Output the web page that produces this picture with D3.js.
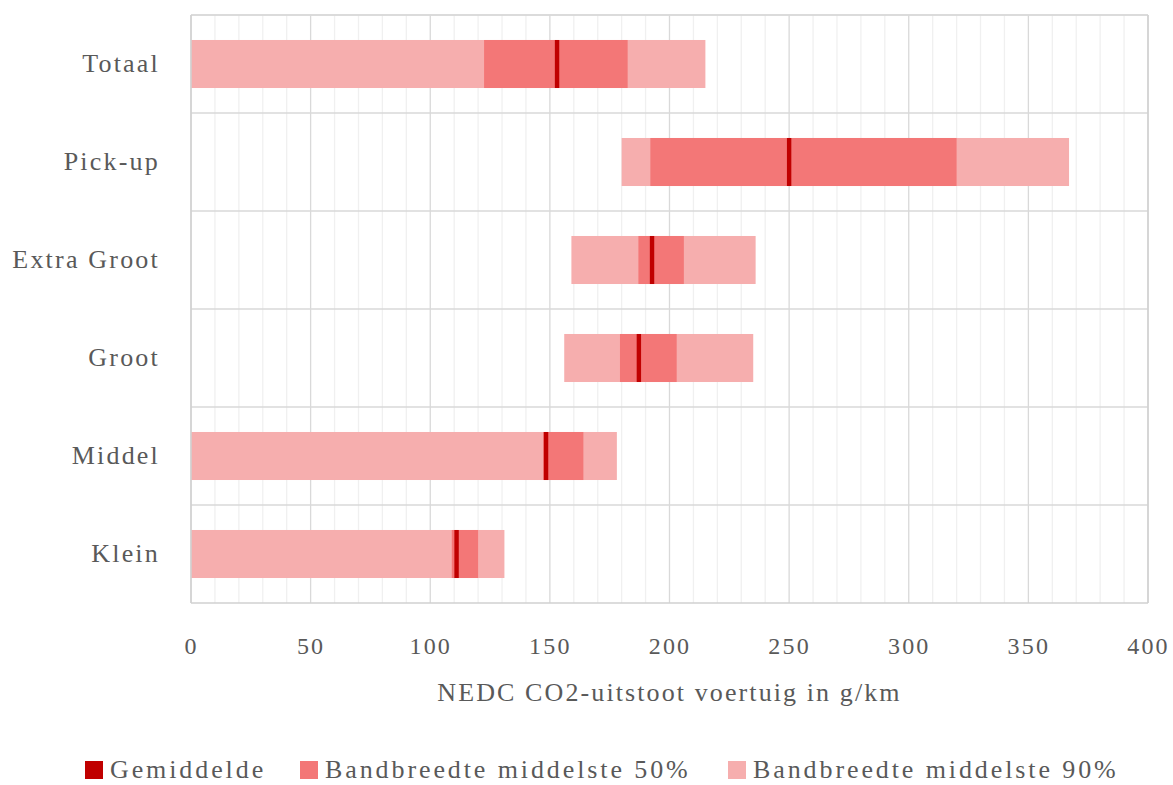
<!DOCTYPE html>
<html>
<head>
<meta charset="utf-8">
<script src="https://cdn.jsdelivr.net/npm/d3@7"></script>
<style>
  body { margin: 0; background: #fff; }
  text { font-family: "Liberation Serif", serif; fill: #595959; }
</style>
</head>
<body>
<svg id="chart"></svg>
<script>
var categories = ["Totaal", "Pick-up", "Extra Groot", "Groot", "Middel", "Klein"];
var p5  = [0, 180, 159, 156, 0, 0];
var p25 = [122.5, 192, 187, 179.3, 147.2, 109];
var gemiddelde = [153, 250, 192.7, 187.2, 148.4, 111];
var p75 = [182.5, 320, 206, 203, 164, 120];
var p95 = [215, 367, 236, 235, 178, 131];
var xTicks = [0, 50, 100, 150, 200, 250, 300, 350, 400];
var legendLabels = ["Gemiddelde", "Bandbreedte middelste 50%", "Bandbreedte middelste 90%"];

var width = 1173;
var height = 785;
var margin = { top: 15, right: 25, bottom: 182, left: 191 };
var w = width - margin.left - margin.right;
var h = height - margin.top - margin.bottom;

var cDark = "#C00000", cMid = "#F37777", cLight = "#F6AEAE";

var data = categories.map(function (c, i) {
  return { cat: c, p5: p5[i], p25: p25[i], mean: gemiddelde[i], p75: p75[i], p95: p95[i] };
});

var svg = d3.select("#chart").attr("width", width).attr("height", height);
var g = svg.append("g").attr("transform", "translate(" + margin.left + "," + margin.top + ")");

var x = d3.scaleLinear().domain([0, 400]).range([0, w]);
var y = d3.scaleBand().domain(categories).range([0, h]).paddingInner(0.51).paddingOuter(0.255);
var yb = d3.scaleBand().domain(categories).range([0, h]);

// minor gridlines every 10
g.selectAll("line.minor").data(d3.range(10, 400, 10).filter(function (v) { return v % 50 != 0; }))
  .enter().append("line").attr("class", "minor")
  .attr("x1", function (d) { return x(d); }).attr("x2", function (d) { return x(d); })
  .attr("y1", 0).attr("y2", h)
  .attr("stroke", "#F0F0F0").attr("stroke-width", 1.3);

// major gridlines
g.selectAll("line.major").data(xTicks)
  .enter().append("line").attr("class", "major")
  .attr("x1", function (d) { return x(d); }).attr("x2", function (d) { return x(d); })
  .attr("y1", 0).attr("y2", h)
  .attr("stroke", "#D9D9D9").attr("stroke-width", 1.3);

// horizontal lines between categories
g.selectAll("line.hband").data(categories)
  .enter().append("line").attr("class", "hband")
  .attr("x1", 0).attr("x2", w)
  .attr("y1", function (d) { return yb(d); }).attr("y2", function (d) { return yb(d); })
  .attr("stroke", "#D9D9D9").attr("stroke-width", 1.3);
g.append("line").attr("x1", 0).attr("x2", w).attr("y1", h).attr("y2", h)
  .attr("stroke", "#D0D0D0").attr("stroke-width", 1.5);

// 90% band
g.selectAll("rect.b90").data(data).enter().append("rect").attr("class", "b90")
  .attr("x", function (d) { return x(d.p5); })
  .attr("width", function (d) { return x(d.p95) - x(d.p5); })
  .attr("y", function (d) { return y(d.cat); })
  .attr("height", y.bandwidth())
  .attr("fill", cLight);

// 50% band
g.selectAll("rect.b50").data(data).enter().append("rect").attr("class", "b50")
  .attr("x", function (d) { return x(d.p25); })
  .attr("width", function (d) { return x(d.p75) - x(d.p25); })
  .attr("y", function (d) { return y(d.cat); })
  .attr("height", y.bandwidth())
  .attr("fill", cMid);

// mean marker
g.selectAll("rect.mean").data(data).enter().append("rect").attr("class", "mean")
  .attr("x", function (d) { return x(d.mean) - 2.2; })
  .attr("width", 4.4)
  .attr("y", function (d) { return y(d.cat); })
  .attr("height", y.bandwidth())
  .attr("fill", cDark);

// x axis labels
var xAxis = d3.axisBottom(x).tickValues(xTicks).tickSize(0).tickPadding(34);
var xg = g.append("g").attr("transform", "translate(0," + h + ")").call(xAxis);
xg.select(".domain").remove();
xg.selectAll("text").style("font-size", "24px").style("letter-spacing", "2.2px")
  .style("font-family", "Liberation Serif").attr("fill", "#595959");

// y axis labels
var yAxis = d3.axisLeft(yb).tickSize(0).tickPadding(31);
var yg = g.append("g").call(yAxis);
yg.select(".domain").remove();
yg.selectAll("text").style("font-size", "26px").style("letter-spacing", "2.2px")
  .style("font-family", "Liberation Serif").attr("fill", "#595959");

// plot border top / left / right
g.append("line").attr("x1", 0).attr("x2", w).attr("y1", 0).attr("y2", 0).attr("stroke", "#D9D9D9").attr("stroke-width", 1.3);
g.append("line").attr("x1", 0).attr("x2", 0).attr("y1", 0).attr("y2", h).attr("stroke", "#D0D0D0").attr("stroke-width", 1.5);
g.append("line").attr("x1", w).attr("x2", w).attr("y1", 0).attr("y2", h).attr("stroke", "#D0D0D0").attr("stroke-width", 1.5);

// axis title
svg.append("text").attr("x", margin.left + w / 2).attr("y", 701)
  .attr("text-anchor", "middle").style("font-size", "26px").style("letter-spacing", "2.1px")
  .text("NEDC CO2-uitstoot voertuig in g/km");

// legend
var legendX = [85, 300, 728];
var legendColors = [cDark, cMid, cLight];
var lg = svg.selectAll("g.legend").data(legendLabels).enter().append("g").attr("class", "legend")
  .attr("transform", function (d, i) { return "translate(" + legendX[i] + ",761)"; });
lg.append("rect").attr("width", 18).attr("height", 18).attr("fill", function (d, i) { return legendColors[i]; });
lg.append("text").attr("x", 25).attr("y", 17)
  .style("font-size", "26px").style("letter-spacing", "2.9px")
  .text(function (d) { return d; });
</script>
</body>
</html>
